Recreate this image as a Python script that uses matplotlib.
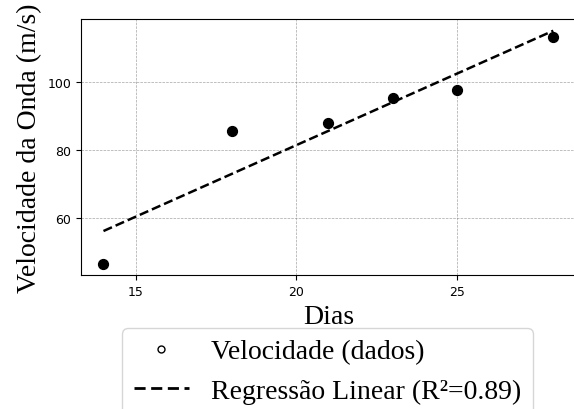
import numpy as np
import matplotlib
matplotlib.use('Agg')
import matplotlib.pyplot as plt
from matplotlib.lines import Line2D

# dados
dias = np.array([14, 18, 21, 23, 25, 28])
velocidade = np.array([46.7, 85.7, 88.1, 95.3, 97.8, 113.3])

# regressao linear
coef = np.polyfit(dias, velocidade, 1)
ajuste = np.polyval(coef, dias)
ss_res = np.sum((velocidade - ajuste) ** 2)
ss_tot = np.sum((velocidade - velocidade.mean()) ** 2)
r2 = 1 - ss_res / ss_tot

serif = ['Liberation Serif', 'DejaVu Serif']

fig = plt.figure(figsize=(5.74, 4.10), dpi=100)
ax = fig.add_axes([0.1411, 0.326, 0.862, 0.625])

ax.scatter(dias, velocidade, color='black', s=50, zorder=3)
ax.plot(dias, ajuste, color='black', linestyle='--', linewidth=1.8)

ax.set_xticks([15, 20, 25])
ax.set_yticks([60, 80, 100])
ax.tick_params(labelsize=9)
ax.grid(True, color='gray', linestyle='--', linewidth=0.5, alpha=0.7)

ax.set_xlabel('Dias', fontsize=20, family=serif)
ax.set_ylabel('Velocidade da Onda (m/s)', fontsize=20, family=serif)

# legenda: circulo aberto e tracejado com 4 tracos
handles = [
    Line2D([], [], marker='o', linestyle='none', markerfacecolor='white',
           markeredgecolor='black', markersize=5, markeredgewidth=1),
    Line2D([], [], color='black', linestyle=(0, (4, 2)), linewidth=2),
]
labels = ['Velocidade (dados)', 'Regressão Linear (R²={:.2f})'.format(r2)]
fig.legend(handles, labels, loc='upper center', bbox_to_anchor=(0.5706, 0.1976),
           borderaxespad=0, prop={'family': serif, 'size': 20})

fig.savefig('out.png', dpi=100)
